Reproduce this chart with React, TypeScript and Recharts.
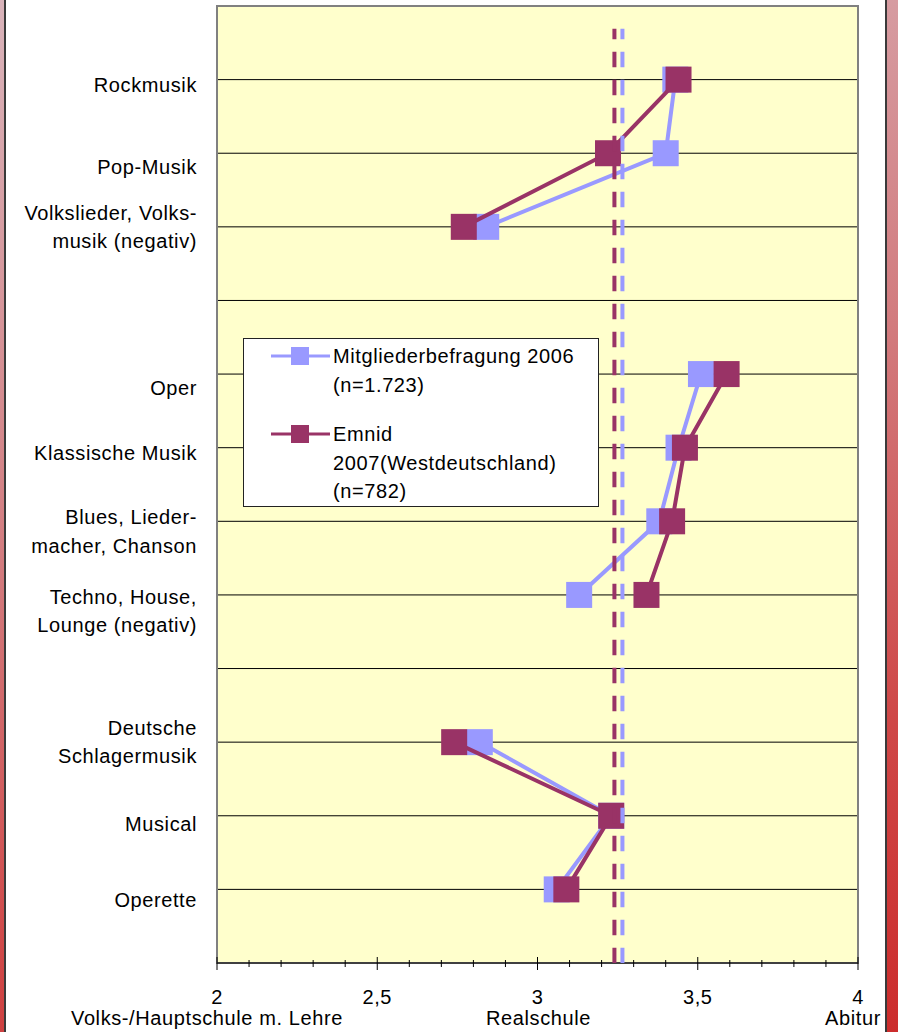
import { ScatterChart, Scatter, XAxis, YAxis, CartesianGrid, ReferenceArea, Legend } from 'recharts';

// rows from top to bottom; empty strings are the spacer rows between the groups
const categories = [
  'Rockmusik',
  'Pop-Musik',
  'Volkslieder, Volks-\nmusik (negativ)',
  '',
  'Oper',
  'Klassische Musik',
  'Blues, Lieder-\nmacher, Chanson',
  'Techno, House,\nLounge (negativ)',
  '',
  'Deutsche\nSchlagermusik',
  'Musical',
  'Operette',
];
const rowPos = [12, 11, 10, 9, 8, 7, 6, 5, 4, 3, 2, 1];

const mitglieder2006 = [3.43, 3.4, 2.84, null, 3.51, 3.44, 3.38, 3.13, null, 2.82, 3.23, 3.06];
const emnid2007 = [3.44, 3.22, 2.77, null, 3.59, 3.46, 3.42, 3.34, null, 2.74, 3.23, 3.09];

// average lines (dashed)
const mitgliederMean = 3.265;
const emnidMean = 3.24;
const meanLineTop = 12.69;

const xTicks = [2, 2.1, 2.2, 2.3, 2.4, 2.5, 2.6, 2.7, 2.8, 2.9, 3, 3.1, 3.2, 3.3, 3.4, 3.5, 3.6, 3.7, 3.8, 3.9, 4];
const xMajor = [2, 2.5, 3, 3.5, 4];
const xLevelNames: Record<string, string> = {
  '2': 'Volks-/Hauptschule m. Lehre',
  '3': 'Realschule',
  '4': 'Abitur',
};

const seriesNames = ['Mitgliederbefragung 2006\n(n=1.723)', 'Emnid\n2007(Westdeutschland)\n(n=782)'];

const BLUE = '#9999FF';
const MAROON = '#993366';
const FONT = '"Liberation Sans", Arial, sans-serif';
const SPACING = '0.6px';

// small vertical nudges of the row labels, as in the original sheet
const labelNudge = [5, 14, 0, 0, 14, 5, 10, 16, 0, 0, 8, 11];
const levelNudge: Record<string, number> = { '2': -10, '3': 1, '4': -5 };

type Pt = { x: number; y: number };

const toSegments = (vals: (number | null)[]): Pt[][] => {
  const segs: Pt[][] = [];
  let cur: Pt[] = [];
  vals.forEach((v, i) => {
    if (v == null) {
      if (cur.length) segs.push(cur);
      cur = [];
    } else {
      cur.push({ x: v, y: rowPos[i] });
    }
  });
  if (cur.length) segs.push(cur);
  return segs;
};

const squareShape = (color: string) => (p: any) => (
  <rect x={p.cx - 13} y={p.cy - 13} width={26} height={26} fill={color} />
);

const YTick = (props: any) => {
  const { x, y, payload } = props;
  const i = rowPos.indexOf(payload.value);
  if (i < 0 || !categories[i]) return <g />;
  const lines = categories[i].split('\n');
  const start = y + labelNudge[i] - ((lines.length - 1) * 28.5) / 2 + 7;
  return (
    <text x={x} textAnchor="end" fontSize={20} fontFamily={FONT} fill="#000" style={{ letterSpacing: SPACING }}>
      {lines.map((l, k) => (
        <tspan key={k} x={x} y={start + k * 28.5}>
          {l}
        </tspan>
      ))}
    </text>
  );
};

const XTick = (props: any) => {
  const { x, y, payload } = props;
  const v = payload.value;
  const major = xMajor.includes(v);
  const name = xLevelNames[String(v)];
  return (
    <g>
      <line x1={x} x2={x} y1={y - (major ? 6 : 3)} y2={y + (major ? 7 : 4)} stroke="#000" strokeWidth={1} />
      {major && (
        <text x={x} y={y + 41} textAnchor="middle" fontSize={20} fontFamily={FONT} fill="#000" style={{ letterSpacing: SPACING }}>
          {String(v).replace('.', ',')}
        </text>
      )}
      {name && (
        <text
          x={x + (levelNudge[String(v)] ?? 0)}
          y={y + 62}
          textAnchor="middle"
          fontSize={20}
          fontFamily={FONT}
          fill="#000"
          style={{ letterSpacing: SPACING }}
        >
          {name}
        </text>
      )}
    </g>
  );
};

const LegendBox = () => {
  const colors = [BLUE, MAROON];
  const tops = [3, 81];
  return (
    <div
      style={{
        width: 356,
        height: 169,
        boxSizing: 'border-box',
        border: '1px solid #222',
        background: '#fff',
        position: 'relative',
        fontFamily: FONT,
        fontSize: 20,
        letterSpacing: SPACING,
        color: '#000',
      }}
    >
      {seriesNames.map((s, i) => (
        <div key={s}>
          <svg style={{ position: 'absolute', left: 27, top: tops[i] + 4 }} width={60} height={20}>
            <line x1={0} x2={59} y1={10} y2={10} stroke={colors[i]} strokeWidth={3} />
            <rect x={20} y={1} width={18} height={18} fill={colors[i]} />
          </svg>
          <div style={{ position: 'absolute', left: 89, top: tops[i], lineHeight: '28.5px', whiteSpace: 'pre-line' }}>
            {s}
          </div>
        </div>
      ))}
    </div>
  );
};

export default function App() {
  const blueSegs = toSegments(mitglieder2006);
  const maroonSegs = toSegments(emnid2007);
  const dashed = { strokeWidth: 4, strokeDasharray: '15.5 12.5', strokeDashoffset: 5 };
  return (
    <div
      style={{
        position: 'absolute',
        left: 0,
        top: 0,
        width: 898,
        height: 1032,
        overflow: 'hidden',
        background: 'linear-gradient(165deg, #d9b4bb 0%, #d27a7d 45%, #cf4848 75%, #cc2c2c 100%)',
      }}
    >
      <div
        style={{
          position: 'absolute',
          left: 4,
          top: 0,
          width: 879,
          height: 1032,
          background: '#fff',
          borderLeft: '2px solid #3a3a3a',
          borderRight: '2px solid #3a3a3a',
        }}
      />
      <div style={{ position: 'absolute', left: 0, top: 0 }}>
        <ScatterChart width={898} height={1032} margin={{ top: 6, right: 40, bottom: 0, left: 0 }}>
          <CartesianGrid vertical={false} stroke="#000" strokeWidth={1} fill="#FFFFCC" fillOpacity={1} />
          <XAxis
            type="number"
            dataKey="x"
            domain={[2, 4]}
            ticks={xTicks}
            interval={0}
            height={69}
            tickSize={0}
            tickMargin={0}
            tickLine={false}
            axisLine={{ stroke: '#000', strokeWidth: 1 }}
            tick={<XTick />}
            allowDataOverflow
          />
          <YAxis
            type="number"
            dataKey="y"
            domain={[0, 13]}
            ticks={rowPos}
            interval={0}
            width={217}
            tickSize={0}
            tickMargin={20}
            tickLine={false}
            axisLine={false}
            tick={<YTick />}
            allowDataOverflow
          />
          <ReferenceArea x1={2} x2={4} y1={0} y2={13} fill="none" stroke="#808080" strokeWidth={2} />
          {blueSegs.map((seg, i) => (
            <Scatter
              key={`b${i}`}
              name="Mitgliederbefragung 2006"
              data={seg}
              fill={BLUE}
              line={{ strokeWidth: 4 }}
              shape={squareShape(BLUE)}
              isAnimationActive={false}
            />
          ))}
          {maroonSegs.map((seg, i) => (
            <Scatter
              key={`m${i}`}
              name="Emnid 2007"
              data={seg}
              fill={MAROON}
              line={{ strokeWidth: 4 }}
              shape={squareShape(MAROON)}
              isAnimationActive={false}
            />
          ))}
          <Scatter
            data={[{ x: emnidMean, y: meanLineTop }, { x: emnidMean, y: 0 }]}
            fill={MAROON}
            line={dashed}
            shape={() => <g />}
            isAnimationActive={false}
          />
          <Scatter
            data={[{ x: mitgliederMean, y: meanLineTop }, { x: mitgliederMean, y: 0 }]}
            fill={BLUE}
            line={dashed}
            shape={() => <g />}
            isAnimationActive={false}
          />
          <Legend
            layout="vertical"
            align="center"
            verticalAlign="middle"
            content={<LegendBox />}
            wrapperStyle={{ position: 'absolute', left: 243, top: 338, width: 356, height: 169 }}
          />
        </ScatterChart>
      </div>
    </div>
  );
}
